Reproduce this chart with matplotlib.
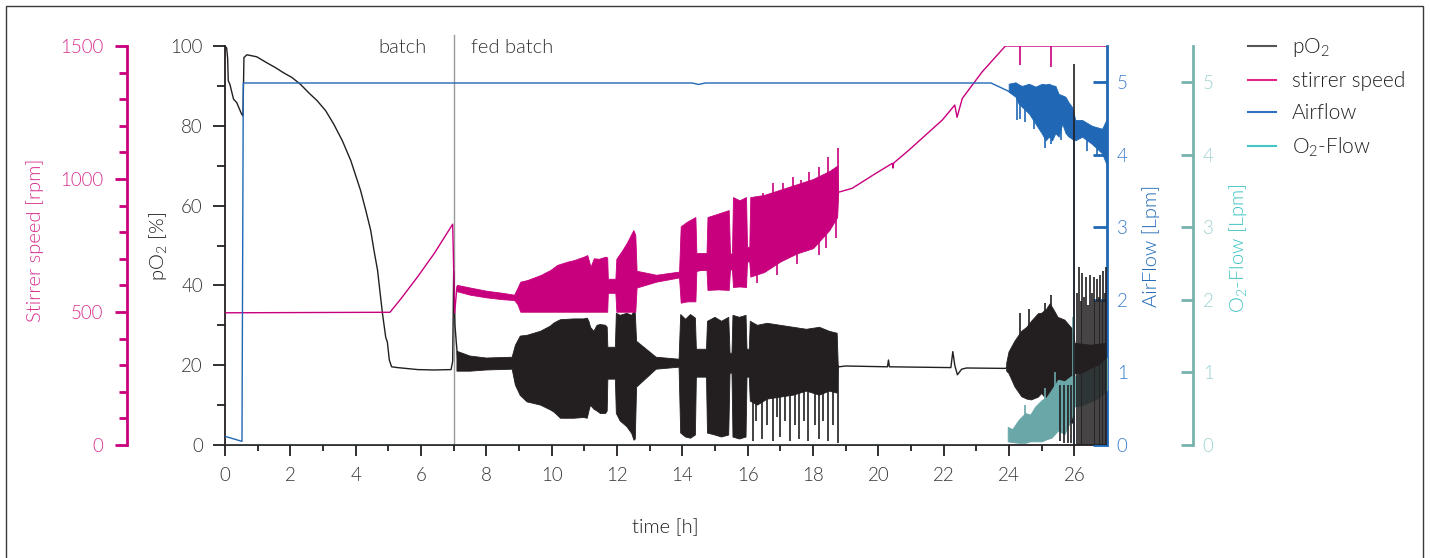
import numpy as np
import matplotlib
matplotlib.use("Agg")
import matplotlib.pyplot as plt
from matplotlib.lines import Line2D
from matplotlib.patches import Rectangle

plt.rcParams['font.family'] = ['Lato', 'DejaVu Sans']
plt.rcParams['font.weight'] = 300
plt.rcParams['axes.labelweight'] = 300
plt.rcParams['mathtext.default'] = 'regular'

# ---------------- data ----------------
# pO2 [%] main trace
po2_t = [0, 0.05, 0.08, 0.10, 0.15, 0.26, 0.36, 0.51, 0.55, 0.58, 0.67, 0.97, 1.28, 1.54,
         1.79, 2.05, 2.31, 2.56, 2.82, 3.08, 3.33, 3.59, 3.85, 4.15, 4.31, 4.46, 4.56, 4.67,
         4.75, 4.82, 4.92, 4.97, 5.03, 5.10, 5.28, 5.90,
         6.41, 6.92, 6.97, 7.00, 7.04, 7.08, 7.13, 8.0, 10.0, 12.0, 14.0, 16.0, 18.70,
         18.80, 19.0, 20.28, 20.31, 20.34, 22.22, 22.28, 22.34, 22.42, 22.55, 22.70, 23.90,
         24.0, 25.0, 26.0, 27.0]
po2_v = [100, 99.5, 97, 91.3, 90.4, 86.7, 85.8, 82.9, 82.5, 97.1, 97.8, 97.3, 95.8, 94.6,
         93.3, 92.1, 90.4, 88.3, 86.3, 83.8, 80.4, 76.3, 71.3, 63.8, 58.8, 53.8, 48.8, 43.8,
         38.0, 33, 27, 25.8, 21.3, 19.6, 19.4, 18.9,
         18.8, 18.9, 21, 43.5, 30, 25.8, 21, 20.3, 20, 20.5, 20.5, 20.5, 20,
         19.6, 19.8, 19.6, 21.3, 19.6, 19.4, 23.4, 20, 17.6, 19, 19.3, 19.2,
         20, 20, 21, 22]
# pO2 oscillation envelope (nan = no oscillation)
po2_band_t = [7.10, 7.50, 8.00, 8.79, 8.89, 9.04, 9.25, 9.66, 9.96, 10.06, 10.17, 10.27,
              10.68, 10.98, 11.09, 11.14, 11.19, 11.29, 11.39, 11.49, 11.65, 11.70,
              11.72, 11.95, 11.98, 12.10, 12.30, 12.45, 12.52, 12.56, 12.60, 13.20, 13.90,
              13.95, 14.10, 14.25, 14.40, 14.43, 14.74, 14.77, 15.00, 15.20, 15.42, 15.46,
              15.52, 15.55, 15.75, 15.95, 15.98, 16.05,
              16.08, 16.30, 16.60, 17.00, 17.40, 17.80, 18.20, 18.50, 18.74, 18.77, 18.78,
              23.93, 24.00, 24.18, 24.39, 24.55, 24.69, 24.90, 25.00, 25.15, 25.26, 25.40,
              25.50, 25.71, 25.97, 26.02, 26.50, 27.00]
po2_band_lo = [18.5, 18.5, 18.8, 19.0, 15.0, 12.4, 10.8, 10.0, 8.8, 8.3, 7.5, 6.7,
               6.7, 6.9, 6.7, 8.5, 10.0, 9.0, 8.5, 7.9, 7.9, 8.5,
               16.5, 16.5, 7.9, 6.0, 4.6, 2.9, 1.2, 1.5, 14.5, 19.0, 19.5,
               3.0, 2.0, 1.7, 2.5, 17.0, 17.0, 3.0, 2.5, 2.0, 2.5, 18.0,
               18.0, 2.0, 1.5, 2.0, 17.0, 17.0,
               11.0, 10.0, 11.5, 12.0, 12.5, 13.5, 12.5, 13.5, 13.0, 19.5, np.nan,
               18.5, 17.9, 14.6, 12.1, 11.5, 11.3, 12.0, 12.9, 11.5, 10.4, 9.5,
               8.8, 6.3, 5.4, 18.0, 17.0, 17.5]
po2_band_hi = [23.5, 22.3, 21.8, 22.0, 25.0, 27.3, 27.5, 28.5, 29.8, 30.5, 31.0, 31.4,
               31.6, 31.6, 31.8, 31.0, 29.5, 28.5, 30.0, 30.2, 30.0, 29.5,
               24.5, 24.5, 33.0, 32.5, 33.0, 32.5, 33.5, 33.0, 26.0, 22.0, 21.5,
               32.7, 31.5, 32.7, 31.8, 24.0, 24.0, 31.0, 32.0, 31.0, 32.0, 23.0,
               23.0, 32.5, 32.0, 32.5, 24.0, 24.0,
               31.0, 30.0, 30.5, 30.0, 29.5, 29.0, 29.5, 28.5, 28.0, 20.5, np.nan,
               20.5, 23.3, 26.0, 28.5, 29.5, 31.0, 32.9, 33.0, 34.0, 35.4, 33.5,
               32.0, 31.3, 28.8, 25.5, 25.0, 25.5]
# pO2 single spikes
po2_spk_t = [16.15, 16.25, 16.43, 16.60, 16.77, 16.90, 17.00, 17.15, 17.31, 17.45, 17.58,
             17.72, 17.86, 18.05, 18.19, 18.32, 18.45, 18.60, 18.76,
             24.34, 24.62, 25.10, 25.29, 25.55, 25.68, 25.80, 25.90, 26.00,
             26.08, 26.14, 26.19, 26.24, 26.30, 26.37, 26.43, 26.49, 26.54, 26.59,
             26.64, 26.70, 26.75, 26.80, 26.85, 26.88, 26.93, 26.98]
po2_spk_lo = [1, 6, 1.5, 5, 1, 7, 2, 6, 1, 5, 1.5,
              6, 1, 5, 1.5, 6, 1, 5, 0.5,
              20, 20, 20, 20, 1, 0.5, 0.5, 0.5, 0,
              0, 0, 0, 0, 0, 0, 0, 0, 0, 0,
              0, 0, 0, 0, 0, 0, 0, 0]
po2_spk_hi = [20, 20, 20, 20, 20, 20, 20, 20, 20, 20, 20,
              20, 20, 20, 20, 20, 20, 20, 20,
              33, 34, 35.5, 37.5, 15, 15, 15, 15, 95.4,
              38, 44.6, 36, 43, 37, 42, 35, 42.5, 38, 42,
              36, 41.5, 37, 42.5, 36, 43.5, 38, 44.6]

# stirrer speed [rpm]
stir_t = [0, 5.05, 5.40, 5.90, 6.41, 6.97, 7.03, 7.10, 8.0, 9.0, 12.0, 14.0, 16.0, 18.74,
          18.80, 19.2, 19.92, 20.43, 20.45, 20.47, 20.94, 21.96, 22.34, 22.41, 22.57,
          23.18, 23.89, 27.0]
stir_v = [497, 499, 552, 633, 721, 830, 496, 595, 568, 555, 600, 640, 700, 950,
          951, 965, 1021, 1059, 1041, 1060, 1109, 1222, 1278, 1232, 1303,
          1403, 1500, 1500]
stir_band_t = [7.10, 7.50, 8.00, 8.50, 8.85, 8.95, 9.04, 9.25, 9.66, 9.96, 10.17, 10.47,
               10.68, 10.98, 11.09, 11.19, 11.29, 11.44, 11.65, 11.70, 11.72, 11.95, 11.98,
               12.15, 12.30, 12.50, 12.56, 12.60, 13.20, 13.90,
               13.95, 14.15, 14.40, 14.43, 14.74, 14.77, 15.10, 15.42, 15.46, 15.52, 15.55,
               15.75, 15.95, 15.98, 16.05, 16.08, 16.50, 17.00, 17.50, 18.00, 18.50, 18.74,
               18.77]
stir_band_lo = [578, 565, 555, 548, 545, 530, 501, 501, 501, 501, 501, 501,
                501, 501, 501, 501, 501, 501, 501, 501, 572, 572, 501,
                501, 501, 501, 501, 592, 614, 630,
                535, 540, 540, 658, 658, 583, 585, 583, 660, 660, 594,
                596, 594, 690, 690, 633, 650, 690, 720, 740, 808, 857,
                945]
stir_band_hi = [602, 592, 580, 572, 565, 590, 614, 620, 639, 658, 677, 689,
                695, 708, 714, 670, 702, 700, 708, 705, 625, 625, 700,
                730, 760, 808, 790, 655, 640, 652,
                822, 840, 857, 722, 722, 857, 870, 883, 720, 720, 932,
                920, 932, 745, 745, 932, 940, 960, 980, 1000, 1030, 1050,
                955]
stir_spk_t = [16.46, 16.77, 17.07, 17.38, 17.63, 17.89, 18.19, 18.45, 18.76,
              16.30, 16.90, 17.50, 18.19, 18.40, 18.70, 24.35, 25.30]
stir_spk_lo = [800, 820, 830, 850, 860, 880, 900, 920, 940,
               610, 640, 680, 714, 739, 777, 1429, 1420]
stir_spk_hi = [946, 984, 984, 1009, 996, 1027, 1046, 1084, 1116,
               800, 820, 850, 850, 870, 900, 1500, 1500]

# air flow [Lpm]
air_t = [0, 0.52, 0.56, 14.30, 14.50, 14.70, 23.45, 23.97, 25.0, 26.0, 27.0]
air_v = [0.12, 0.05, 4.99, 4.99, 4.97, 4.99, 4.99, 4.88, 4.6, 4.45, 4.2]
air_band_t = [23.99, 24.20, 24.30, 24.40, 24.61, 24.81, 25.01, 25.12, 25.22, 25.32, 25.42,
              25.52, 25.63, 25.73, 25.83, 25.93, 26.03, 26.24, 26.54, 26.85, 27.00]
air_band_lo = [4.87, 4.80, 4.70, 4.66, 4.57, 4.43, 4.29, 4.20, 4.25, 4.20, 4.30,
               4.25, 4.43, 4.30, 4.25, 4.22, 4.20, 4.25, 4.15, 4.02, 3.85]
air_band_hi = [4.98, 5.00, 4.97, 4.95, 4.98, 4.94, 4.98, 4.97, 4.98, 4.96, 4.95,
               4.84, 4.82, 4.80, 4.72, 4.66, 4.48, 4.48, 4.40, 4.36, 4.50]
air_spk_t = [24.25, 24.33, 24.50, 24.75, 25.10, 25.30, 25.60, 25.85, 26.00, 26.40, 26.70]
air_spk_lo = [4.48, 4.50, 4.45, 4.35, 4.10, 4.15, 4.20, 4.25, 0.0, 4.05, 4.00]
air_spk_hi = [4.90, 4.90, 4.90, 4.80, 4.60, 4.60, 4.60, 4.60, 4.40, 4.30, 4.30]

# O2 flow [Lpm]
o2_t = [0, 23.95]
o2_v = [0, 0]
o2_band_t = [23.96, 24.10, 24.30, 24.50, 24.65, 24.80, 25.00, 25.15, 25.30, 25.50, 25.70,
             25.90, 26.00, 26.25, 26.50, 26.75, 27.00]
o2_band_lo = [0.05, 0.04, 0.03, 0.03, 0.05, 0.05, 0.05, 0.08, 0.10, 0.20, 0.15,
              0.35, 0.53, 0.55, 0.60, 0.65, 0.76]
o2_band_hi = [0.25, 0.22, 0.35, 0.44, 0.42, 0.53, 0.62, 0.66, 0.76, 0.90, 0.88,
              0.95, 0.95, 0.99, 1.05, 1.10, 1.20]
o2_spk_t = [24.49, 25.10, 25.40, 25.97]
o2_spk_lo = [0.1, 0.2, 0.3, 0.4]
o2_spk_hi = [0.55, 0.78, 1.00, 1.76]

phase_t = 7.0
phase_labels = ["batch", "fed batch"]
legend_labels = ["pO$_2$", "stirrer speed", "Airflow", "O$_2$-Flow"]

# ---------------- style ----------------
C_PO2 = '#231f20'
C_STIR = '#c8007e'
C_STIR_TXT = '#d8308e'
C_AIR = '#2068b6'
C_AIR_TXT = '#3a7cc8'
C_O2 = '#6aa7a9'
C_O2_SP = '#78b3ad'
C_O2_TXT = '#9fd2d2'
C_O2_LBL = '#3fc3c3'
C_TXT = '#333333'

W, H = 1431, 558
fig = plt.figure(figsize=(W / 100, H / 100), dpi=100)
L, R, B, T = 225, 1107, 445, 46
ax = fig.add_axes([L / W, 1 - B / H, (R - L) / W, (B - T) / H])
AXW = R - L

ax_stir = ax.twinx()
ax_air = ax.twinx()
ax_o2 = ax.twinx()
ax_top = ax.twinx()   # pO2 spikes drawn above the flow traces

lw = 1.0
# pO2
ax.fill_between(po2_band_t, po2_band_lo, po2_band_hi, color=C_PO2, lw=0.6, zorder=2)
ax.plot(po2_t, po2_v, color=C_PO2, lw=lw, zorder=3)
ax_top.vlines(po2_spk_t, po2_spk_lo, po2_spk_hi, color=C_PO2, lw=1.2)
# stirrer
ax_stir.fill_between(stir_band_t, stir_band_lo, stir_band_hi, color=C_STIR, lw=0.6)
ax_stir.plot(stir_t, stir_v, color=C_STIR, lw=lw)
ax_stir.vlines(stir_spk_t, stir_spk_lo, stir_spk_hi, color=C_STIR, lw=1.2)
# air
ax_air.fill_between(air_band_t, air_band_lo, air_band_hi, color=C_AIR, lw=0.6)
ax_air.plot(air_t, air_v, color=C_AIR, lw=lw)
ax_air.vlines(air_spk_t, air_spk_lo, air_spk_hi, color=C_AIR, lw=1.2)
# O2
ax_o2.fill_between(o2_band_t, o2_band_lo, o2_band_hi, color=C_O2, lw=0.6)
ax_o2.plot(o2_t, o2_v, color=C_O2, lw=lw)
ax_o2.vlines(o2_spk_t, o2_spk_lo, o2_spk_hi, color=C_O2, lw=1.2)

# phase marker
ax.axvline(phase_t, ymin=0, ymax=(B - 35) / (B - T), color='#9a9a9a', lw=1.0,
           clip_on=False, zorder=1)
ax.text((402 - L) / AXW * 27, (B - 48) / (B - T) * 100, phase_labels[0], ha='center',
        va='center', fontsize=14.5, color=C_TXT)
ax.text((512 - L) / AXW * 27, (B - 48) / (B - T) * 100, phase_labels[1], ha='center',
        va='center', fontsize=14.5, color=C_TXT)

# ---- axes settings ----
ax.set_xlim(0, 27)
ax.set_ylim(0, 100)
for a in (ax_stir, ax_air, ax_o2, ax_top):
    a.set_xlim(0, 27)
ax_stir.set_ylim(0, 1500)
ax_air.set_ylim(0, 5.5)
ax_o2.set_ylim(0, 5.5)
ax_top.set_ylim(0, 100)
ax_top.set_yticks([])

for a in (ax, ax_stir, ax_air, ax_o2, ax_top):
    for s in a.spines.values():
        s.set_visible(False)

# main axes
ax.spines['left'].set_visible(True)
ax.spines['left'].set_color(C_PO2)
ax.spines['left'].set_linewidth(1.3)
ax.spines['bottom'].set_visible(True)
ax.spines['bottom'].set_color(C_PO2)
ax.spines['bottom'].set_linewidth(1.3)
ax.set_xticks(np.arange(0, 27, 2))
ax.set_xticks(np.arange(1, 27, 2), minor=True)
ax.set_yticks(np.arange(0, 101, 20))
ax.set_yticks(np.arange(10, 100, 20), minor=True)
ax.tick_params(axis='x', which='major', direction='out', length=8, width=1.3,
               color=C_PO2, labelsize=13.5, labelcolor=C_TXT, pad=8)
ax.tick_params(axis='x', which='minor', direction='out', length=4, width=1.3, color=C_PO2)
ax.tick_params(axis='y', which='major', direction='out', length=9, width=1.3,
               color=C_PO2, labelsize=13.5, labelcolor=C_TXT, pad=7)
ax.tick_params(axis='y', which='minor', direction='out', length=6, width=1.3, color=C_PO2)
ax.set_xlabel('time [h]', fontsize=14.5, color='#231f20', fontweight=300)
ax.xaxis.set_label_coords((665 - L) / AXW, -(518 - B) / (B - T))
ax.set_ylabel('pO$_2$ [%]', fontsize=14.5, color='#231f20', ha='center', va='center',
              fontweight=300)
ax.yaxis.set_label_coords((158 - L) / AXW, (B - 246) / (B - T))

# stirrer axis (left, offset)
ax_stir.yaxis.set_ticks_position('left')
ax_stir.yaxis.set_label_position('left')
ax_stir.spines['left'].set_visible(True)
ax_stir.spines['left'].set_position(('axes', (127 - L) / AXW))
ax_stir.spines['left'].set_color(C_STIR)
ax_stir.spines['left'].set_linewidth(2.0)
ax_stir.set_yticks(np.arange(0, 1501, 500))
ax_stir.set_yticks(np.arange(100, 1500, 100), minor=True)
ax_stir.tick_params(axis='y', which='major', direction='out', length=9, width=2.0,
                    color=C_STIR, labelsize=13.5, labelcolor=C_STIR_TXT, pad=8)
ax_stir.tick_params(axis='y', which='minor', direction='out', length=5.5, width=2.0,
                    color=C_STIR)
ax_stir.set_ylabel('Stirrer speed [rpm]', fontsize=14.5, color=C_STIR_TXT, ha='center',
                   va='center', fontweight=300)
ax_stir.yaxis.set_label_coords((35 - L) / AXW, (B - 240) / (B - T))

# air axis (right)
ax_air.spines['right'].set_visible(True)
ax_air.spines['right'].set_color(C_AIR)
ax_air.spines['right'].set_linewidth(2.0)
ax_air.set_yticks(np.arange(0, 6, 1))
ax_air.tick_params(axis='y', which='major', direction='in', length=10, width=2.0,
                   color=C_AIR, labelsize=13.5, labelcolor=C_AIR_TXT, pad=7)
ax_air.set_ylabel('AirFlow [Lpm]', fontsize=14.5, color=C_AIR, ha='center', va='center',
                  rotation=90, fontweight=300)
ax_air.yaxis.set_label_coords((1151 - L) / AXW, (B - 246) / (B - T))

# O2 axis (right, offset)
ax_o2.spines['right'].set_visible(True)
ax_o2.spines['right'].set_position(('axes', (1193 - L) / AXW))
ax_o2.spines['right'].set_color(C_O2_SP)
ax_o2.spines['right'].set_linewidth(2.0)
ax_o2.set_yticks(np.arange(0, 6, 1))
ax_o2.tick_params(axis='y', which='major', direction='in', length=9, width=2.0,
                  color=C_O2_SP, labelsize=13.5, labelcolor=C_O2_TXT, pad=7)
ax_o2.set_ylabel('O$_2$-Flow [Lpm]', fontsize=14.5, color=C_O2_LBL, ha='center',
                 va='center', rotation=90, fontweight=300)
ax_o2.yaxis.set_label_coords((1238 - L) / AXW, (B - 248) / (B - T))

# legend
handles = [Line2D([], [], color='#555555', lw=1.5),
           Line2D([], [], color='#e0288a', lw=1.5),
           Line2D([], [], color='#2f70c0', lw=1.5),
           Line2D([], [], color='#45c6c6', lw=1.5)]
fig.legend(handles, legend_labels, loc='upper left',
           bbox_to_anchor=(1248 / W, 1 - 36 / H), frameon=False, fontsize=15,
           handlelength=1.35, handletextpad=0.75, labelspacing=0.58, borderpad=0,
           borderaxespad=0, labelcolor='#231f20')

# outer frame
fig.patches.append(Rectangle((6 / W, -0.05), (1423 - 6) / W, 1.05 - 6 / H,
                             transform=fig.transFigure, fill=False, edgecolor='#3a3a3a',
                             lw=1.0))

fig.savefig('out.png', dpi=100)
